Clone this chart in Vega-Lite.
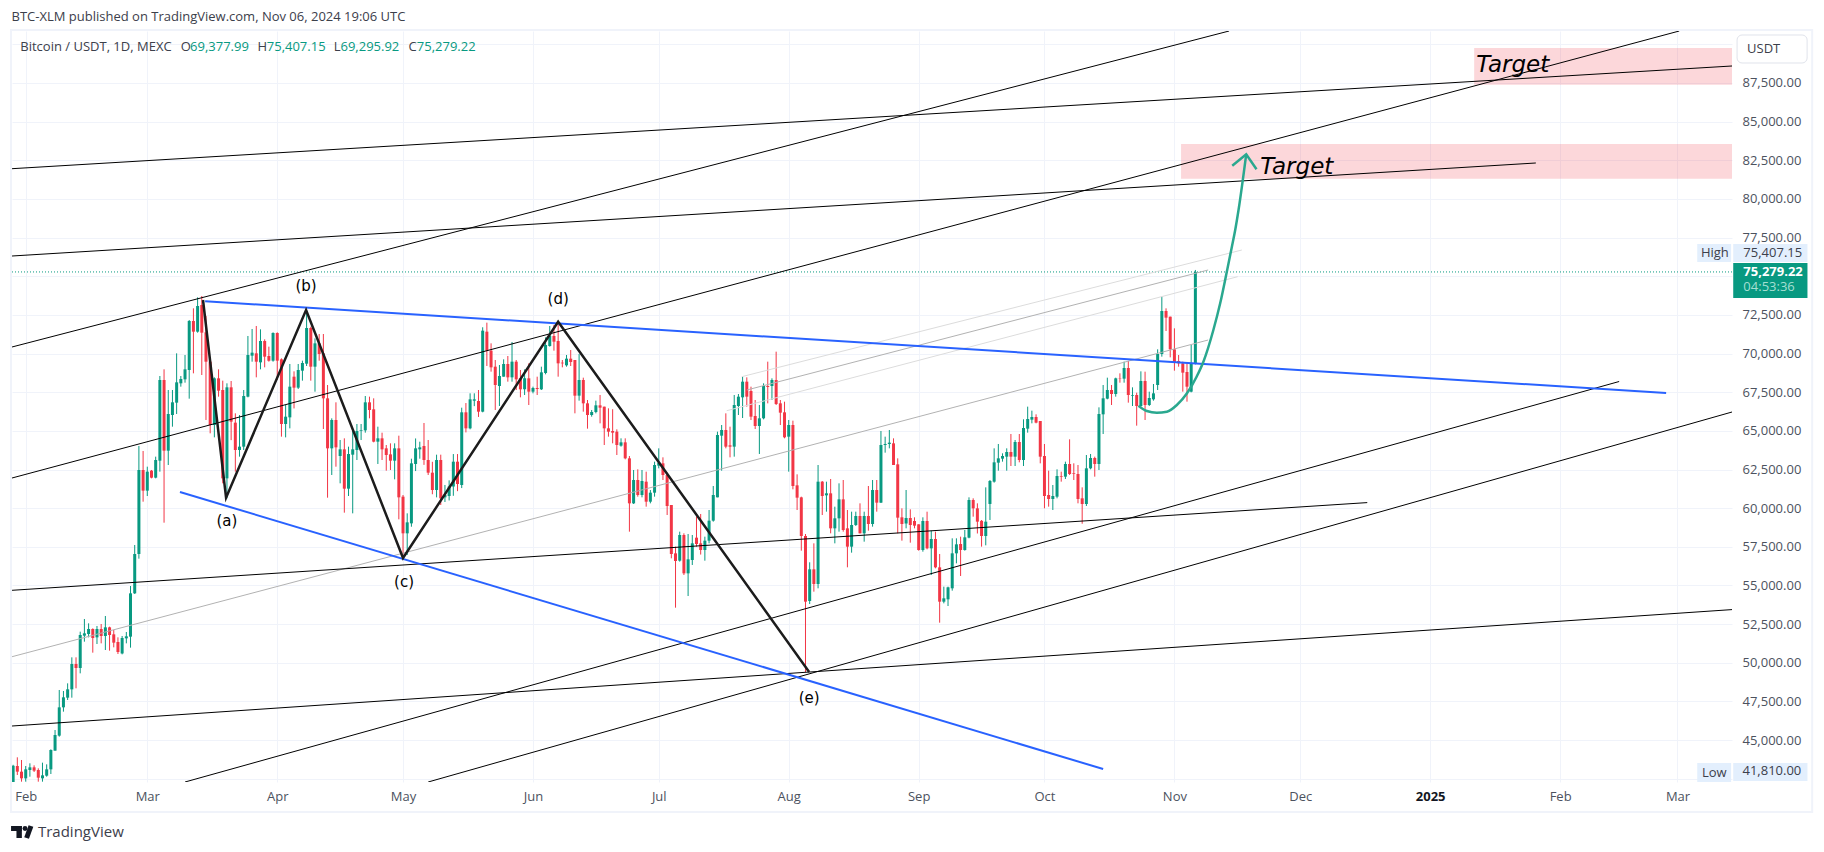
{
"$schema":"https://vega.github.io/schema/vega-lite/v6.json",
"width":1720,"height":751,
"autosize":{"type":"none"},
"padding":{"left":12,"top":31,"right":92,"bottom":70},
"background":"white",
"config":{"view":{"stroke":null},"text":{"font":"Open Sans"}},
"datasets":{
"candles":[
{"date":"2024-01-29","open":42030,"high":43400,"low":41810,"close":43345},
{"date":"2024-01-30","open":43324,"high":43885,"low":42742,"close":42957},
{"date":"2024-01-31","open":42957,"high":43712,"low":42310,"close":42526},
{"date":"2024-02-01","open":42526,"high":43324,"low":42310,"close":43108},
{"date":"2024-02-02","open":43065,"high":43497,"low":42633,"close":43237},
{"date":"2024-02-03","open":43237,"high":43367,"low":42935,"close":43022},
{"date":"2024-02-04","open":43065,"high":43173,"low":42310,"close":42569},
{"date":"2024-02-05","open":42526,"high":43540,"low":42310,"close":42720},
{"date":"2024-02-06","open":42698,"high":43432,"low":42633,"close":43108},
{"date":"2024-02-07","open":43108,"high":44402,"low":42806,"close":44359},
{"date":"2024-02-08","open":44316,"high":45652,"low":44316,"close":45329},
{"date":"2024-02-09","open":45286,"high":48240,"low":45221,"close":47118},
{"date":"2024-02-10","open":47118,"high":48175,"low":46838,"close":47765},
{"date":"2024-02-11","open":47743,"high":48671,"low":47593,"close":48283},
{"date":"2024-02-12","open":48283,"high":50352,"low":47743,"close":49921},
{"date":"2024-02-13","open":49921,"high":50352,"low":48348,"close":49663},
{"date":"2024-02-14","open":49663,"high":52012,"low":49317,"close":51797},
{"date":"2024-02-15","open":51754,"high":52832,"low":51365,"close":51904},
{"date":"2024-02-16","open":51861,"high":52551,"low":51645,"close":52185},
{"date":"2024-02-17","open":52185,"high":52228,"low":50654,"close":51603},
{"date":"2024-02-18","open":51645,"high":52379,"low":51214,"close":52185},
{"date":"2024-02-19","open":52185,"high":52508,"low":51257,"close":51732},
{"date":"2024-02-20","open":51732,"high":53026,"low":50827,"close":52293},
{"date":"2024-02-21","open":52293,"high":52336,"low":50784,"close":51797},
{"date":"2024-02-22","open":51840,"high":52120,"low":50999,"close":51301},
{"date":"2024-02-23","open":51344,"high":51646,"low":50568,"close":50697},
{"date":"2024-02-24","open":50603,"high":51732,"low":50545,"close":51603},
{"date":"2024-02-25","open":51581,"high":51991,"low":51257,"close":51711},
{"date":"2024-02-26","open":51689,"high":54966,"low":50978,"close":54492},
{"date":"2024-02-27","open":54492,"high":57618,"low":54449,"close":57036},
{"date":"2024-02-28","open":57036,"high":64021,"low":56734,"close":62469},
{"date":"2024-02-29","open":62469,"high":63698,"low":60420,"close":61132},
{"date":"2024-03-01","open":61132,"high":62684,"low":60787,"close":62361},
{"date":"2024-03-02","open":62426,"high":62470,"low":61929,"close":61972},
{"date":"2024-03-03","open":61972,"high":63331,"low":61929,"close":63115},
{"date":"2024-03-04","open":63072,"high":68548,"low":62361,"close":68290},
{"date":"2024-03-05","open":68290,"high":68980,"low":59062,"close":63719},
{"date":"2024-03-06","open":63719,"high":67643,"low":62792,"close":66091},
{"date":"2024-03-07","open":66026,"high":67643,"low":65271,"close":66846},
{"date":"2024-03-08","open":66824,"high":70015,"low":66091,"close":68139},
{"date":"2024-03-09","open":68075,"high":68548,"low":67859,"close":68354},
{"date":"2024-03-10","open":68333,"high":69907,"low":68117,"close":68980},
{"date":"2024-03-11","open":68936,"high":72171,"low":67082,"close":72106},
{"date":"2024-03-12","open":72106,"high":72925,"low":68721,"close":71416},
{"date":"2024-03-13","open":71416,"high":73637,"low":71351,"close":73076},
{"date":"2024-03-14","open":73141,"high":73723,"low":68613,"close":71351},
{"date":"2024-03-15","open":71373,"high":72429,"low":65703,"close":69475},
{"date":"2024-03-16","open":69475,"high":69583,"low":64840,"close":65379},
{"date":"2024-03-17","open":65379,"high":68462,"low":64581,"close":68398},
{"date":"2024-03-18","open":68398,"high":68980,"low":67212,"close":67600},
{"date":"2024-03-19","open":67643,"high":68247,"low":61606,"close":61929},
{"date":"2024-03-20","open":61929,"high":68074,"low":60636,"close":67816},
{"date":"2024-03-21","open":67816,"high":68225,"low":64400,"close":65595},
{"date":"2024-03-22","open":65531,"high":66134,"low":62361,"close":63762},
{"date":"2024-03-23","open":63762,"high":66026,"low":63331,"close":63978},
{"date":"2024-03-24","open":63978,"high":67643,"low":63762,"close":67255},
{"date":"2024-03-25","open":67212,"high":71136,"low":67169,"close":69907},
{"date":"2024-03-26","open":69863,"high":71589,"low":69475,"close":70058},
{"date":"2024-03-27","open":70015,"high":71783,"low":68462,"close":69475},
{"date":"2024-03-28","open":69432,"high":71567,"low":68980,"close":70812},
{"date":"2024-03-29","open":70812,"high":70920,"low":69109,"close":69799},
{"date":"2024-03-30","open":69842,"high":70446,"low":69475,"close":69540},
{"date":"2024-03-31","open":69540,"high":71373,"low":69475,"close":71330},
{"date":"2024-04-01","open":71330,"high":71373,"low":68290,"close":69540},
{"date":"2024-04-02","open":69627,"high":69691,"low":64625,"close":65444},
{"date":"2024-04-03","open":65444,"high":66673,"low":64581,"close":65918},
{"date":"2024-04-04","open":65875,"high":69325,"low":65163,"close":67859},
{"date":"2024-04-05","open":68505,"high":68850,"low":66450,"close":67794},
{"date":"2024-04-06","open":67794,"high":69325,"low":67708,"close":68937},
{"date":"2024-04-07","open":68893,"high":69540,"low":68247,"close":69389},
{"date":"2024-04-08","open":69345,"high":72818,"low":69195,"close":71653},
{"date":"2024-04-09","open":71653,"high":71739,"low":68247,"close":69152},
{"date":"2024-04-10","open":69152,"high":70985,"low":67535,"close":70661},
{"date":"2024-04-11","open":70661,"high":71265,"low":69540,"close":69971},
{"date":"2024-04-12","open":70015,"high":71265,"low":65120,"close":67104},
{"date":"2024-04-13","open":67104,"high":67966,"low":60679,"close":63870},
{"date":"2024-04-14","open":63870,"high":65810,"low":62146,"close":65703},
{"date":"2024-04-15","open":65703,"high":66846,"low":62684,"close":63934},
{"date":"2024-04-16","open":63374,"high":64409,"low":61606,"close":63805},
{"date":"2024-04-17","open":63805,"high":64517,"low":59709,"close":61261},
{"date":"2024-04-18","open":61261,"high":63978,"low":60787,"close":63503},
{"date":"2024-04-19","open":63460,"high":65056,"low":59665,"close":63805},
{"date":"2024-04-20","open":63762,"high":65444,"low":63115,"close":64991},
{"date":"2024-04-21","open":64991,"high":65444,"low":64409,"close":65034},
{"date":"2024-04-22","open":65034,"high":67255,"low":64883,"close":66846},
{"date":"2024-04-23","open":66846,"high":67212,"low":65810,"close":66350},
{"date":"2024-04-24","open":66393,"high":67104,"low":64258,"close":64301},
{"date":"2024-04-25","open":64301,"high":65271,"low":62857,"close":64517},
{"date":"2024-04-26","open":64517,"high":64883,"low":63115,"close":63805},
{"date":"2024-04-27","open":63870,"high":64085,"low":62426,"close":63439},
{"date":"2024-04-28","open":63481,"high":64193,"low":62469,"close":63072},
{"date":"2024-04-29","open":63072,"high":64193,"low":61865,"close":63870},
{"date":"2024-04-30","open":63870,"high":64689,"low":59278,"close":60701},
{"date":"2024-05-01","open":60744,"high":60851,"low":56648,"close":58373},
{"date":"2024-05-02","open":58373,"high":59666,"low":56971,"close":59083},
{"date":"2024-05-03","open":59018,"high":63200,"low":58800,"close":62900},
{"date":"2024-05-04","open":62857,"high":64510,"low":62400,"close":63870},
{"date":"2024-05-05","open":63805,"high":64300,"low":63200,"close":63934},
{"date":"2024-05-06","open":64021,"high":65509,"low":62800,"close":63115},
{"date":"2024-05-07","open":63115,"high":64409,"low":62146,"close":62296},
{"date":"2024-05-08","open":62296,"high":63000,"low":60900,"close":61175},
{"date":"2024-05-09","open":61175,"high":63460,"low":60700,"close":63115},
{"date":"2024-05-10","open":63115,"high":63460,"low":60205,"close":60636},
{"date":"2024-05-11","open":60700,"high":61500,"low":60400,"close":60850},
{"date":"2024-05-12","open":60787,"high":61800,"low":60500,"close":61400},
{"date":"2024-05-13","open":61400,"high":63500,"low":60800,"close":63007},
{"date":"2024-05-14","open":63007,"high":63500,"low":61100,"close":61563},
{"date":"2024-05-15","open":61500,"high":66500,"low":61300,"close":66200},
{"date":"2024-05-16","open":66200,"high":66800,"low":64900,"close":65163},
{"date":"2024-05-17","open":65163,"high":67428,"low":65100,"close":67039},
{"date":"2024-05-18","open":66950,"high":67428,"low":66600,"close":67039},
{"date":"2024-05-19","open":66932,"high":67643,"low":65900,"close":66242},
{"date":"2024-05-20","open":66242,"high":71700,"low":66200,"close":71481},
{"date":"2024-05-21","open":71416,"high":71998,"low":69196,"close":70187},
{"date":"2024-05-22","open":70187,"high":70661,"low":68829,"close":69109},
{"date":"2024-05-23","open":69152,"high":69583,"low":66350,"close":67967},
{"date":"2024-05-24","open":67902,"high":69260,"low":66608,"close":68549},
{"date":"2024-05-25","open":68505,"high":69627,"low":68505,"close":69325},
{"date":"2024-05-26","open":69325,"high":69842,"low":68182,"close":68462},
{"date":"2024-05-27","open":68462,"high":70748,"low":68182,"close":69476},
{"date":"2024-05-28","open":69476,"high":69584,"low":67643,"close":68333},
{"date":"2024-05-29","open":68398,"high":68937,"low":67169,"close":67687},
{"date":"2024-05-30","open":67687,"high":68980,"low":67320,"close":68398},
{"date":"2024-05-31","open":68398,"high":69368,"low":66673,"close":67536},
{"date":"2024-06-01","open":67536,"high":67859,"low":67428,"close":67773},
{"date":"2024-06-02","open":67773,"high":68505,"low":67320,"close":67708},
{"date":"2024-06-03","open":67687,"high":69152,"low":67643,"close":68786},
{"date":"2024-06-04","open":68743,"high":71050,"low":68657,"close":70554},
{"date":"2024-06-05","open":70489,"high":71783,"low":70446,"close":71136},
{"date":"2024-06-06","open":71136,"high":71848,"low":70187,"close":70769},
{"date":"2024-06-07","open":70812,"high":72063,"low":68505,"close":69368},
{"date":"2024-06-08","open":69411,"high":69583,"low":69109,"close":69368},
{"date":"2024-06-09","open":69239,"high":69907,"low":69152,"close":69670},
{"date":"2024-06-10","open":69670,"high":70230,"low":69195,"close":69455},
{"date":"2024-06-11","open":69583,"high":69583,"low":66134,"close":67277},
{"date":"2024-06-12","open":67277,"high":69970,"low":66953,"close":68290},
{"date":"2024-06-13","open":68290,"high":68441,"low":66242,"close":66781},
{"date":"2024-06-14","open":66781,"high":66996,"low":65142,"close":66026},
{"date":"2024-06-15","open":66026,"high":66350,"low":65919,"close":66220},
{"date":"2024-06-16","open":66220,"high":66954,"low":66134,"close":66651},
{"date":"2024-06-17","open":66651,"high":67320,"low":65487,"close":66500},
{"date":"2024-06-18","open":66565,"high":66565,"low":64085,"close":65164},
{"date":"2024-06-19","open":65164,"high":66457,"low":64625,"close":64948},
{"date":"2024-06-20","open":64991,"high":66400,"low":64193,"close":64883},
{"date":"2024-06-21","open":64948,"high":65099,"low":63439,"close":64086},
{"date":"2024-06-22","open":64043,"high":64517,"low":63978,"close":64258},
{"date":"2024-06-23","open":64258,"high":64517,"low":63159,"close":63223},
{"date":"2024-06-24","open":63223,"high":63374,"low":58480,"close":60312},
{"date":"2024-06-25","open":60312,"high":62469,"low":60269,"close":61822},
{"date":"2024-06-26","open":61822,"high":62512,"low":60744,"close":60852},
{"date":"2024-06-27","open":60852,"high":62469,"low":60700,"close":61757},
{"date":"2024-06-28","open":61714,"high":62361,"low":60097,"close":60420},
{"date":"2024-06-29","open":60420,"high":61174,"low":60312,"close":61002},
{"date":"2024-06-30","open":61002,"high":63008,"low":60744,"close":62792},
{"date":"2024-07-01","open":62749,"high":63870,"low":62577,"close":62943},
{"date":"2024-07-02","open":62900,"high":63288,"low":61822,"close":62145},
{"date":"2024-07-03","open":62145,"high":62145,"low":59558,"close":60140},
{"date":"2024-07-04","open":60205,"high":60205,"low":56755,"close":57036},
{"date":"2024-07-05","open":57079,"high":57510,"low":53564,"close":56583},
{"date":"2024-07-06","open":56605,"high":58480,"low":56540,"close":58265},
{"date":"2024-07-07","open":58265,"high":58373,"low":55678,"close":55785},
{"date":"2024-07-08","open":55785,"high":58330,"low":54319,"close":56691},
{"date":"2024-07-09","open":56648,"high":58265,"low":56325,"close":57726},
{"date":"2024-07-10","open":58092,"high":59450,"low":57510,"close":57683},
{"date":"2024-07-11","open":57726,"high":59623,"low":57000,"close":57295},
{"date":"2024-07-12","open":57295,"high":58157,"low":56604,"close":57898},
{"date":"2024-07-13","open":57898,"high":59882,"low":57726,"close":59192},
{"date":"2024-07-14","open":59192,"high":61434,"low":59127,"close":60852},
{"date":"2024-07-15","open":60701,"high":64948,"low":60701,"close":64733},
{"date":"2024-07-16","open":64689,"high":65379,"low":62426,"close":65056},
{"date":"2024-07-17","open":65056,"high":66134,"low":63870,"close":63978},
{"date":"2024-07-18","open":64064,"high":65271,"low":63288,"close":63978},
{"date":"2024-07-19","open":63978,"high":67320,"low":63331,"close":66673},
{"date":"2024-07-20","open":66608,"high":67385,"low":66026,"close":67212},
{"date":"2024-07-21","open":67169,"high":68505,"low":65832,"close":68182},
{"date":"2024-07-22","open":68182,"high":68462,"low":66565,"close":67212},
{"date":"2024-07-23","open":67579,"high":67859,"low":65700,"close":65918},
{"date":"2024-07-24","open":65962,"high":66996,"low":65120,"close":65315},
{"date":"2024-07-25","open":65315,"high":66673,"low":63504,"close":65811},
{"date":"2024-07-26","open":65811,"high":68074,"low":65746,"close":67902},
{"date":"2024-07-27","open":67902,"high":69476,"low":66780,"close":67838},
{"date":"2024-07-28","open":67902,"high":68398,"low":67000,"close":68290},
{"date":"2024-07-29","open":68290,"high":70123,"low":66673,"close":66738},
{"date":"2024-07-30","open":66781,"high":66996,"low":65379,"close":66177},
{"date":"2024-07-31","open":66199,"high":66888,"low":64517,"close":64582},
{"date":"2024-08-01","open":64625,"high":65703,"low":62361,"close":65379},
{"date":"2024-08-02","open":65379,"high":65660,"low":61218,"close":61434},
{"date":"2024-08-03","open":61477,"high":62188,"low":59881,"close":60679},
{"date":"2024-08-04","open":60700,"high":60744,"low":57251,"close":58200},
{"date":"2024-08-05","open":58200,"high":58329,"low":49400,"close":53953},
{"date":"2024-08-06","open":53998,"high":56500,"low":53800,"close":56044},
{"date":"2024-08-07","open":56044,"high":57726,"low":54600,"close":55096},
{"date":"2024-08-08","open":55096,"high":62792,"low":54816,"close":61714},
{"date":"2024-08-09","open":61714,"high":61757,"low":59558,"close":60787},
{"date":"2024-08-10","open":60830,"high":61714,"low":59774,"close":60960},
{"date":"2024-08-11","open":60960,"high":61887,"low":58372,"close":58696},
{"date":"2024-08-12","open":58696,"high":60097,"low":57726,"close":59343},
{"date":"2024-08-13","open":59343,"high":61606,"low":58480,"close":60572},
{"date":"2024-08-14","open":60572,"high":61822,"low":58480,"close":58588},
{"date":"2024-08-15","open":58696,"high":59881,"low":56174,"close":57511},
{"date":"2024-08-16","open":57511,"high":59773,"low":57122,"close":58912},
{"date":"2024-08-17","open":58912,"high":59773,"low":58847,"close":59494},
{"date":"2024-08-18","open":59494,"high":60313,"low":58372,"close":58372},
{"date":"2024-08-19","open":58372,"high":59773,"low":57834,"close":59494},
{"date":"2024-08-20","open":59494,"high":61434,"low":58545,"close":58976},
{"date":"2024-08-21","open":58976,"high":61822,"low":58804,"close":61175},
{"date":"2024-08-22","open":61175,"high":61822,"low":59774,"close":60356},
{"date":"2024-08-23","open":60356,"high":64991,"low":60335,"close":64086},
{"date":"2024-08-24","open":64086,"high":64625,"low":63590,"close":64151},
{"date":"2024-08-25","open":64151,"high":65056,"low":63870,"close":64237},
{"date":"2024-08-26","open":64193,"high":64517,"low":62792,"close":62792},
{"date":"2024-08-27","open":62835,"high":63223,"low":58372,"close":59386},
{"date":"2024-08-28","open":59407,"high":59990,"low":57898,"close":58976},
{"date":"2024-08-29","open":59008,"high":61175,"low":58696,"close":59365},
{"date":"2024-08-30","open":59365,"high":59925,"low":57769,"close":58911},
{"date":"2024-08-31","open":59170,"high":59408,"low":58696,"close":58869},
{"date":"2024-09-01","open":58955,"high":58955,"low":57251,"close":57294},
{"date":"2024-09-02","open":57294,"high":59408,"low":57187,"close":59170},
{"date":"2024-09-03","open":59170,"high":59773,"low":57337,"close":57402},
{"date":"2024-09-04","open":57402,"high":58545,"low":55677,"close":58006},
{"date":"2024-09-05","open":58006,"high":58480,"low":56108,"close":56173},
{"date":"2024-09-06","open":56173,"high":57036,"low":52594,"close":53952},
{"date":"2024-09-07","open":53952,"high":54924,"low":53845,"close":54169},
{"date":"2024-09-08","open":54104,"high":54924,"low":53672,"close":54880},
{"date":"2024-09-09","open":54816,"high":58049,"low":54665,"close":57079},
{"date":"2024-09-10","open":57079,"high":58049,"low":56432,"close":57660},
{"date":"2024-09-11","open":57683,"high":58157,"low":55613,"close":57295},
{"date":"2024-09-12","open":57295,"high":58588,"low":57251,"close":58114},
{"date":"2024-09-13","open":58093,"high":60702,"low":58050,"close":60528},
{"date":"2024-09-14","open":60528,"high":60637,"low":59450,"close":59990},
{"date":"2024-09-15","open":59990,"high":60313,"low":58362,"close":59127},
{"date":"2024-09-16","open":59180,"high":59234,"low":57510,"close":58200},
{"date":"2024-09-17","open":58200,"high":61347,"low":57597,"close":59127},
{"date":"2024-09-18","open":60272,"high":61822,"low":59235,"close":61758},
{"date":"2024-09-19","open":61714,"high":63870,"low":61650,"close":62965},
{"date":"2024-09-20","open":62943,"high":64151,"low":62425,"close":63223},
{"date":"2024-09-21","open":63202,"high":63547,"low":63008,"close":63374},
{"date":"2024-09-22","open":63331,"high":63870,"low":62425,"close":63633},
{"date":"2024-09-23","open":63633,"high":64797,"low":62727,"close":63331},
{"date":"2024-09-24","open":63331,"high":64409,"low":62727,"close":64280},
{"date":"2024-09-25","open":64280,"high":64797,"low":62965,"close":63116},
{"date":"2024-09-26","open":63116,"high":65747,"low":62727,"close":65186},
{"date":"2024-09-27","open":65143,"high":66566,"low":64884,"close":65767},
{"date":"2024-09-28","open":65725,"high":66307,"low":65487,"close":65897},
{"date":"2024-09-29","open":65897,"high":66069,"low":65487,"close":65531},
{"date":"2024-09-30","open":65638,"high":65638,"low":62900,"close":63331},
{"date":"2024-10-01","open":63374,"high":64151,"low":59989,"close":60787},
{"date":"2024-10-02","open":60852,"high":62426,"low":60097,"close":60593},
{"date":"2024-10-03","open":60593,"high":61498,"low":59882,"close":60787},
{"date":"2024-10-04","open":60744,"high":62512,"low":60637,"close":62081},
{"date":"2024-10-05","open":62081,"high":62361,"low":61714,"close":62038},
{"date":"2024-10-06","open":62038,"high":63008,"low":61887,"close":62857},
{"date":"2024-10-07","open":62857,"high":64452,"low":62146,"close":62210},
{"date":"2024-10-08","open":62275,"high":62900,"low":61822,"close":62231},
{"date":"2024-10-09","open":62210,"high":62792,"low":60313,"close":60593},
{"date":"2024-10-10","open":60637,"high":61347,"low":58994,"close":60270},
{"date":"2024-10-11","open":60270,"high":63439,"low":60140,"close":62577},
{"date":"2024-10-12","open":62577,"high":63504,"low":62512,"close":63245},
{"date":"2024-10-13","open":63245,"high":63331,"low":62038,"close":62857},
{"date":"2024-10-14","open":62857,"high":66522,"low":62469,"close":66091},
{"date":"2024-10-15","open":66070,"high":67967,"low":64797,"close":67105},
{"date":"2024-10-16","open":67083,"high":68441,"low":67040,"close":67643},
{"date":"2024-10-17","open":67643,"high":67967,"low":66673,"close":67384},
{"date":"2024-10-18","open":67384,"high":68441,"low":67212,"close":68398},
{"date":"2024-10-19","open":68398,"high":68721,"low":68117,"close":68377},
{"date":"2024-10-20","open":68377,"high":69476,"low":68117,"close":69066},
{"date":"2024-10-21","open":69066,"high":69519,"low":66824,"close":67320},
{"date":"2024-10-22","open":67277,"high":67816,"low":66608,"close":67320},
{"date":"2024-10-23","open":67320,"high":67470,"low":65336,"close":66608},
{"date":"2024-10-24","open":66608,"high":68850,"low":66565,"close":68225},
{"date":"2024-10-25","open":68225,"high":68829,"low":65703,"close":66673},
{"date":"2024-10-26","open":66673,"high":67535,"low":66608,"close":67126},
{"date":"2024-10-27","open":67040,"high":68031,"low":66953,"close":67428},
{"date":"2024-10-28","open":67967,"high":70273,"low":67643,"close":69972},
{"date":"2024-10-29","open":69972,"high":73680,"low":69800,"close":72753},
{"date":"2024-10-30","open":72753,"high":72925,"low":71459,"close":72322},
{"date":"2024-10-31","open":72386,"high":72386,"low":69756,"close":70274},
{"date":"2024-11-01","open":70274,"high":71632,"low":68894,"close":69411},
{"date":"2024-11-02","open":69518,"high":69907,"low":69152,"close":69368},
{"date":"2024-11-03","open":69368,"high":69475,"low":67536,"close":68765},
{"date":"2024-11-04","open":68808,"high":69411,"low":66889,"close":67858},
{"date":"2024-11-05","open":67535,"high":70554,"low":67492,"close":69368},
{"date":"2024-11-06","open":69377.99,"high":75407.15,"low":69295.92,"close":75279.22}
],
"lines":[
{"id":"t1","kind":"trend","date":"2024-01-28T17:30Z","price":81957},{"id":"t1","kind":"trend","date":"2025-03-14T00:00Z","price":88600},
{"id":"t2","kind":"trend","date":"2024-01-28T17:30Z","price":76310},{"id":"t2","kind":"trend","date":"2025-01-26T05:00Z","price":82326},
{"id":"t3","kind":"trend","date":"2024-01-28T17:30Z","price":70425},{"id":"t3","kind":"trend","date":"2024-11-14T01:00Z","price":90863},
{"id":"t4","kind":"trend","date":"2024-01-28T17:30Z","price":61951},{"id":"t4","kind":"trend","date":"2025-03-01T10:00Z","price":90863},
{"id":"t5","kind":"trend","date":"2024-01-28T17:30Z","price":54688},{"id":"t5","kind":"trend","date":"2024-12-17T00:00Z","price":60360},
{"id":"t6","kind":"trend","date":"2024-01-28T17:30Z","price":45911},{"id":"t6","kind":"trend","date":"2025-03-14T00:00Z","price":53440},
{"id":"t7","kind":"trend","date":"2024-03-10T00:00Z","price":42289},{"id":"t7","kind":"trend","date":"2025-02-15T02:00Z","price":68193},
{"id":"t8","kind":"trend","date":"2024-05-07T00:00Z","price":42289},{"id":"t8","kind":"trend","date":"2025-03-14T00:00Z","price":66220},
{"id":"g1","kind":"gray","date":"2024-01-28T17:30Z","price":50393},{"id":"g1","kind":"gray","date":"2024-11-09T01:00Z","price":70877},
{"id":"g2","kind":"gray","date":"2024-07-22T00:00Z","price":67643},{"id":"g2","kind":"gray","date":"2024-11-09T01:00Z","price":75405},
{"id":"g3","kind":"light","date":"2024-07-20T19:00Z","price":68504},{"id":"g3","kind":"light","date":"2024-11-17T02:00Z","price":76698},
{"id":"g4","kind":"light","date":"2024-07-17T05:00Z","price":66304},{"id":"g4","kind":"light","date":"2024-11-16T02:00Z","price":74972},
{"id":"b1","kind":"boundary","date":"2024-03-14T19:00Z","price":73380},{"id":"b1","kind":"boundary","date":"2025-02-26T07:00Z","price":67449},
{"id":"b2","kind":"boundary","date":"2024-03-08T19:00Z","price":61046},{"id":"b2","kind":"boundary","date":"2024-10-15T00:00Z","price":43129},
{"id":"w","kind":"wave","date":"2024-03-14T07:00Z","price":73464},
{"id":"w","kind":"wave","date":"2024-03-19T19:00Z","price":60677},
{"id":"w","kind":"wave","date":"2024-04-07T21:00Z","price":72818},
{"id":"w","kind":"wave","date":"2024-05-01T00:00Z","price":56777},
{"id":"w","kind":"wave","date":"2024-06-07T00:00Z","price":72061},
{"id":"w","kind":"wave","date":"2024-08-05T21:00Z","price":49404},
{"id":"a","kind":"arrow","date":"2024-11-14T19:00Z","price":82151},
{"id":"a","kind":"arrow","date":"2024-11-18T03:00Z","price":82888},
{"id":"a","kind":"arrow","date":"2024-11-20T14:00Z","price":81918}
],
"path":[
{"date":"2024-10-23T10:00Z","price":66628},
{"date":"2024-10-25T10:00Z","price":66285},
{"date":"2024-10-27T19:00Z","price":66175},
{"date":"2024-10-30T05:00Z","price":66240},
{"date":"2024-11-01T14:00Z","price":66673},
{"date":"2024-11-04T00:00Z","price":67430},
{"date":"2024-11-06T07:00Z","price":68504},
{"date":"2024-11-07T22:00Z","price":69474},
{"date":"2024-11-10T07:00Z","price":71524},
{"date":"2024-11-11T22:00Z","price":73251},
{"date":"2024-11-13T12:00Z","price":75295},
{"date":"2024-11-14T17:00Z","price":76912},
{"date":"2024-11-15T12:00Z","price":77992},
{"date":"2024-11-16T07:00Z","price":79286},
{"date":"2024-11-18T03:00Z","price":82888}
],
"zones":[
{"date":"2025-01-11T12:00Z","date2":"2025-03-14T00:00Z","price":89764,"price2":87390},
{"date":"2024-11-02T14:00Z","date2":"2025-03-14T00:00Z","price":83555,"price2":81310}
],
"tags":[
{"date":"2025-03-05T17:00Z","date2":"2025-03-13T19:00Z","price":77087,"price2":75922},
{"date":"2025-03-14T07:00Z","date2":"2025-04-01T00:00Z","price":77087,"price2":75922},
{"date":"2025-03-05T17:00Z","date2":"2025-03-13T19:00Z","price":43518,"price2":42289},
{"date":"2025-03-14T07:00Z","date2":"2025-04-01T00:00Z","price":43518,"price2":42354}
],
"texts":[
{"group":"chrome","date":"2024-01-28T15:00Z","price":91769,"label":"BTC-XLM published on TradingView.com, Nov 06, 2024 19:06 UTC"},
{"group":"chrome","date":"2024-01-30T17:00Z","price":89796,"label":"Bitcoin / USDT, 1D, MEXC"},
{"group":"chrome","date":"2024-03-08T23:00Z","price":89796,"label":"O"},
{"group":"chrome","date":"2024-03-27T07:00Z","price":89796,"label":"H"},
{"group":"chrome","date":"2024-04-14T12:00Z","price":89796,"label":"L"},
{"group":"chrome","date":"2024-05-02T07:00Z","price":89796,"label":"C"},
{"group":"chrome","date":"2025-03-17T14:00Z","price":89699,"label":"USDT"},
{"group":"chrome","date":"2025-03-06T14:00Z","price":76524,"label":"High"},
{"group":"chrome","date":"2025-03-16T17:00Z","price":76524,"label":"75,407.15"},
{"group":"chrome","date":"2025-03-06T20:00Z","price":42852,"label":"Low"},
{"group":"chrome","date":"2025-03-16T12:00Z","price":43000,"label":"41,810.00"},
{"group":"ohlc","date":"2024-03-11T05:00Z","price":89796,"label":"69,377.99"},
{"group":"ohlc","date":"2024-03-29T12:00Z","price":89796,"label":"75,407.15"},
{"group":"ohlc","date":"2024-04-16T02:00Z","price":89796,"label":"69,295.92"},
{"group":"ohlc","date":"2024-05-04T07:00Z","price":89796,"label":"75,279.22"}
],
"waves":[
{"date":"2024-03-20T00:00Z","price":59170,"label":"(a)"},
{"date":"2024-04-07T21:00Z","price":74370,"label":"(b)"},
{"date":"2024-05-01T06:00Z","price":55250,"label":"(c)"},
{"date":"2024-06-07T00:00Z","price":73529,"label":"(d)"},
{"date":"2024-08-05T21:00Z","price":47722,"label":"(e)"}
],
"targets":[
{"date":"2025-01-12T00:00Z","price":88640,"label":"Target"},
{"date":"2024-11-21T12:00Z","price":82075,"label":"Target"}
]
},
"data":{"name":"lines"},
"encoding":{
"x":{"field":"date","type":"temporal","title":null,
"scale":{"type":"utc","nice":false,"padding":0,"domain":[{"year":2024,"month":1,"date":28,"hours":17,"minutes":30,"utc":true},{"year":2025,"month":3,"date":14,"utc":true}]},
"axis":{"domain":false,"ticks":false,"grid":true,"gridColor":"#f0f3fa","gridWidth":1,"labelFont":"Open Sans","labelFontSize":13,"labelColor":{"condition":{"test":"utcmonth(datum.value)==0","value":"#131722"},"value":"#4c525e"},"labelFontWeight":{"condition":{"test":"utcmonth(datum.value)==0","value":"bold"},"value":"normal"},"labelPadding":8,"labelOverlap":false,"labelFlush":false,
"values":[{"year":2024,"month":2,"date":1,"utc":true},{"year":2024,"month":3,"date":1,"utc":true},{"year":2024,"month":4,"date":1,"utc":true},{"year":2024,"month":5,"date":1,"utc":true},{"year":2024,"month":6,"date":1,"utc":true},{"year":2024,"month":7,"date":1,"utc":true},{"year":2024,"month":8,"date":1,"utc":true},{"year":2024,"month":9,"date":1,"utc":true},{"year":2024,"month":10,"date":1,"utc":true},{"year":2024,"month":11,"date":1,"utc":true},{"year":2024,"month":12,"date":1,"utc":true},{"year":2025,"month":1,"date":1,"utc":true},{"year":2025,"month":2,"date":1,"utc":true},{"year":2025,"month":3,"date":1,"utc":true}],
"labelExpr":"utcmonth(datum.value)==0 ? '2025' : utcFormat(datum.value,'%b')"}},
"y":{"field":"price","type":"quantitative","title":null,
"scale":{"nice":false,"zero":false,"padding":0,"domain":[42289,90863]},
"axis":{"orient":"right","domain":false,"ticks":false,"grid":true,"gridColor":"#f0f3fa","gridWidth":1,"labelFont":"Open Sans","labelFontSize":13,"labelColor":"#4c525e","labelPadding":10,"labelOverlap":false,"labelFlush":false,
"values":[42500,45000,47500,50000,52500,55000,57500,60000,62500,65000,67500,70000,72500,75000,77500,80000,82500,85000,87500,90000],
"labelExpr":"datum.value<43000||datum.value>88000 ? '' : format(datum.value,',.2f')"}}
},
"layer":[
{"data":{"name":"zones"},"mark":{"type":"rect","fill":"#f23645","fillOpacity":0.2,"stroke":null},
 "encoding":{"x2":{"field":"date2"},"y2":{"field":"price2"}}},
{"data":{"name":"candles"},"mark":{"type":"rule","strokeWidth":1,"clip":true},
 "encoding":{"y":{"field":"high","type":"quantitative","title":null,"scale":{"nice":false,"zero":false,"padding":0,"domain":[42289,90863]},
  "axis":{"orient":"right","domain":false,"ticks":false,"grid":true,"gridColor":"#f0f3fa","gridWidth":1,"labelFont":"Open Sans","labelFontSize":13,"labelColor":"#4c525e","labelPadding":10,"labelOverlap":false,"labelFlush":false,
  "values":[42500,45000,47500,50000,52500,55000,57500,60000,62500,65000,67500,70000,72500,75000,77500,80000,82500,85000,87500,90000],
  "labelExpr":"datum.value<43000||datum.value>88000 ? '' : format(datum.value,',.2f')"}},"y2":{"field":"low"},
  "color":{"condition":{"test":"datum.close>=datum.open","value":"#089981"},"value":"#f23645"}}},
{"data":{"name":"candles"},"mark":{"type":"bar","size":3,"clip":true},
 "encoding":{"y":{"field":"open","type":"quantitative","title":null,"scale":{"nice":false,"zero":false,"padding":0,"domain":[42289,90863]},
  "axis":{"orient":"right","domain":false,"ticks":false,"grid":true,"gridColor":"#f0f3fa","gridWidth":1,"labelFont":"Open Sans","labelFontSize":13,"labelColor":"#4c525e","labelPadding":10,"labelOverlap":false,"labelFlush":false,
  "values":[42500,45000,47500,50000,52500,55000,57500,60000,62500,65000,67500,70000,72500,75000,77500,80000,82500,85000,87500,90000],
  "labelExpr":"datum.value<43000||datum.value>88000 ? '' : format(datum.value,',.2f')"}},"y2":{"field":"close"},
  "color":{"condition":{"test":"datum.close>=datum.open","value":"#089981"},"value":"#f23645"}}},
{"data":{"values":[{"date":"2024-01-28T17:30Z","date2":"2025-03-14T00:00Z","price":75279.22}]},"mark":{"type":"rule","color":"#089981","strokeWidth":1,"strokeDash":[1,2]},
 "encoding":{"x2":{"field":"date2"}}},
{"transform":[{"filter":"datum.kind=='light'"}],"mark":{"type":"line","color":"#dcdcdc","strokeWidth":1,"clip":true},"encoding":{"detail":{"field":"id"}}},
{"transform":[{"filter":"datum.kind=='gray'"}],"mark":{"type":"line","color":"#b2b2b2","strokeWidth":1,"clip":true},"encoding":{"detail":{"field":"id"}}},
{"transform":[{"filter":"datum.kind=='trend'"}],"mark":{"type":"line","color":"#000000","strokeWidth":1,"clip":true},"encoding":{"detail":{"field":"id"}}},
{"transform":[{"filter":"datum.kind=='boundary'"}],"mark":{"type":"line","color":"#2962ff","strokeWidth":2,"clip":true},"encoding":{"detail":{"field":"id"}}},
{"transform":[{"filter":"datum.kind=='wave'"}],"mark":{"type":"line","color":"#1c1c1c","strokeWidth":2.5,"clip":true},"encoding":{"detail":{"field":"id"}}},
{"data":{"name":"path"},"mark":{"type":"line","color":"#2aa88f","strokeWidth":2.5,"interpolate":"monotone","clip":true}},
{"transform":[{"filter":"datum.kind=='arrow'"}],"mark":{"type":"line","color":"#2aa88f","strokeWidth":2.5,"clip":true},"encoding":{"detail":{"field":"id"}}},
{"data":{"name":"waves"},"mark":{"type":"text","font":"DejaVu Sans","fontSize":15,"color":"#000000","align":"center","baseline":"middle"},"encoding":{"text":{"field":"label"}}},
{"data":{"name":"targets"},"mark":{"type":"text","font":"DejaVu Sans","fontStyle":"italic","fontSize":23,"color":"#000000","align":"left","baseline":"middle"},"encoding":{"text":{"field":"label"}}},
{"data":{"values":[{"date":"2024-01-28T12:00Z","date2":"2025-04-02T03:00Z","price":90928,"price2":40348}]},"mark":{"type":"rect","fillOpacity":0,"stroke":"#f0f3fa","strokeWidth":2},
 "encoding":{"x2":{"field":"date2"},"y2":{"field":"price2"}}},
{"data":{"values":[{"date":"2025-03-15T05:00Z","date2":"2025-03-31T22:00Z","price":90605,"price2":88794}]},"mark":{"type":"rect","fill":"#ffffff","stroke":"#e0e3eb","strokeWidth":1,"cornerRadius":5},
 "encoding":{"x2":{"field":"date2"},"y2":{"field":"price2"}}},
{"data":{"name":"tags"},"mark":{"type":"rect","fill":"#e3effd"},"encoding":{"x2":{"field":"date2"},"y2":{"field":"price2"}}},
{"data":{"values":[{"date":"2025-03-14T07:00Z","date2":"2025-04-01T00:00Z","price":75858,"price2":73594}]},"mark":{"type":"rect","fill":"#089981"},"encoding":{"x2":{"field":"date2"},"y2":{"field":"price2"}}},
{"data":{"name":"texts"},"transform":[{"filter":"datum.group=='chrome'"}],"mark":{"type":"text","fontSize":13,"color":"#3c404b","align":"left","baseline":"middle"},"encoding":{"text":{"field":"label"}}},
{"data":{"name":"texts"},"transform":[{"filter":"datum.group=='ohlc'"}],"mark":{"type":"text","fontSize":13,"color":"#089981","align":"left","baseline":"middle"},"encoding":{"text":{"field":"label"}}},
{"data":{"values":[{"date":"2025-03-16T17:00Z","price":75296,"label":"75,279.22"}]},"mark":{"type":"text","fontSize":13,"fontWeight":"bold","color":"#ffffff","align":"left","baseline":"middle"},"encoding":{"text":{"field":"label"}}},
{"data":{"values":[{"date":"2025-03-16T17:00Z","price":74325,"label":"04:53:36"}]},"mark":{"type":"text","fontSize":13,"color":"#a5dfd2","align":"left","baseline":"middle"},"encoding":{"text":{"field":"label"}}},
{"data":{"values":[{"date":"2024-02-03T22:00Z","price":39023,"label":"TradingView"}]},"mark":{"type":"text","fontSize":15,"color":"#3c404b","align":"left","baseline":"middle"},"encoding":{"text":{"field":"label"}}},
{"data":{"values":[{"date":"2024-01-28T12:00Z","date2":"2024-01-31T02:00Z","price":39443,"price2":39120},{"date":"2024-01-29T19:00Z","date2":"2024-01-31T02:00Z","price":39443,"price2":38667}]},"mark":{"type":"rect","fill":"#131722"},"encoding":{"x2":{"field":"date2"},"y2":{"field":"price2"}}},
{"data":{"values":[{"date":"2024-01-31T20:00Z","price":39280}]},"mark":{"type":"point","filled":true,"color":"#131722","size":24,"opacity":1}},
{"data":{"values":[{"date":"2024-02-02T06:00Z","price":39443},{"date":"2024-02-01T05:00Z","price":38667}]},"mark":{"type":"line","color":"#131722","strokeWidth":5}}
]
}
